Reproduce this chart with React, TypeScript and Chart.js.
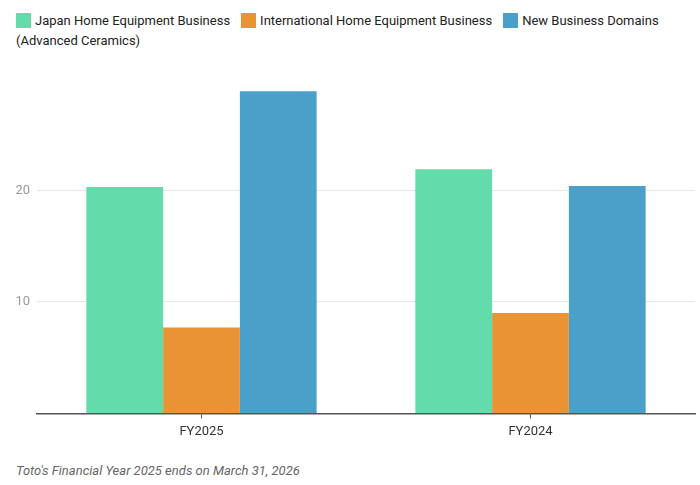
import { useEffect, useRef } from 'react';
import Chart from 'chart.js/auto';

const categories = ['FY2025', 'FY2024'];
const seriesNames = [
  'Japan Home Equipment Business',
  'International Home Equipment Business',
  'New Business Domains (Advanced Ceramics)',
];
const japanHome = [20.3, 21.9];
const internationalHome = [7.7, 9.0];
const newBusiness = [28.9, 20.4];
const yTicks = [10, 20];

const colors = ['#63dbab', '#ea9335', '#4ba0ca'];
const FONT = 'Roboto, "Noto Sans", sans-serif';

export default function App() {
  const chartRef = useRef<HTMLCanvasElement>(null);
  const chartInstance = useRef<Chart | null>(null);

  useEffect(() => {
    document.body.style.margin = '0';
    if (chartRef.current) {
      const ctx = chartRef.current.getContext('2d');
      if (ctx) {
        chartInstance.current = new Chart(ctx, {
          type: 'bar',
          data: {
            labels: categories,
            datasets: [japanHome, internationalHome, newBusiness].map((d, i) => ({
              label: seriesNames[i],
              data: d,
              backgroundColor: colors[i],
              borderWidth: 0,
              categoryPercentage: 0.7,
              barPercentage: 1,
            })),
          },
          options: {
            animation: false,
            responsive: true,
            maintainAspectRatio: false,
            layout: { padding: { top: 19, right: 5, left: 0, bottom: 0 } },
            plugins: {
              legend: { display: false },
              tooltip: { enabled: false },
            },
            scales: {
              x: {
                grid: {
                  offset: false,
                  drawOnChartArea: false,
                  drawTicks: true,
                  tickLength: 5,
                  color: '#555',
                },
                border: { display: true, color: '#555', width: 1.5 },
                ticks: {
                  color: '#333',
                  padding: 6,
                  font: { family: FONT, size: 13 },
                },
              },
              y: {
                min: 0,
                max: 30,
                afterBuildTicks: (scale: any) => {
                  scale.ticks = [0, ...yTicks, 30].map((v) => ({ value: v }));
                },
                afterFit: (scale: any) => {
                  scale.width = 37;
                },
                grid: {
                  drawTicks: false,
                  color: (c: any) =>
                    yTicks.includes(c.tick?.value) ? '#e6e6e6' : 'rgba(0,0,0,0)',
                },
                border: { display: false },
                ticks: {
                  padding: 7,
                  color: '#999',
                  font: { family: FONT, size: 13 },
                  callback: (v: any) => (yTicks.includes(Number(v)) ? String(v) : ''),
                },
              },
            },
          },
        });
      }
    }
    return () => {
      chartInstance.current?.destroy();
    };
  }, []);

  const swatch = (c: string) => (
    <span
      style={{
        display: 'inline-block',
        width: 15,
        height: 15,
        background: c,
        verticalAlign: '-3px',
        marginRight: 4,
      }}
    />
  );

  return (
    <div
      style={{
        position: 'absolute',
        left: 0,
        top: 0,
        width: 700,
        height: 485,
        fontFamily: FONT,
        background: '#fff',
      }}
    >
      <div
        style={{
          position: 'absolute',
          left: 16,
          top: 11,
          width: 680,
          fontSize: 13,
          lineHeight: '20px',
          color: '#222',
        }}
      >
        {seriesNames.map((name, i) => (
          <span key={name}>
            {swatch(colors[i])}
            {name}
            {i < seriesNames.length - 1 ? <span style={{ marginRight: 11 }} /> : null}
          </span>
        ))}
      </div>
      <div style={{ position: 'absolute', left: 0, top: 60, width: 700, height: 386 }}>
        <canvas ref={chartRef}></canvas>
      </div>
      <div
        style={{
          position: 'absolute',
          left: 16,
          top: 463,
          fontSize: 13,
          fontStyle: 'italic',
          color: '#666',
        }}
      >
        Toto's Financial Year 2025 ends on March 31, 2026
      </div>
    </div>
  );
}
